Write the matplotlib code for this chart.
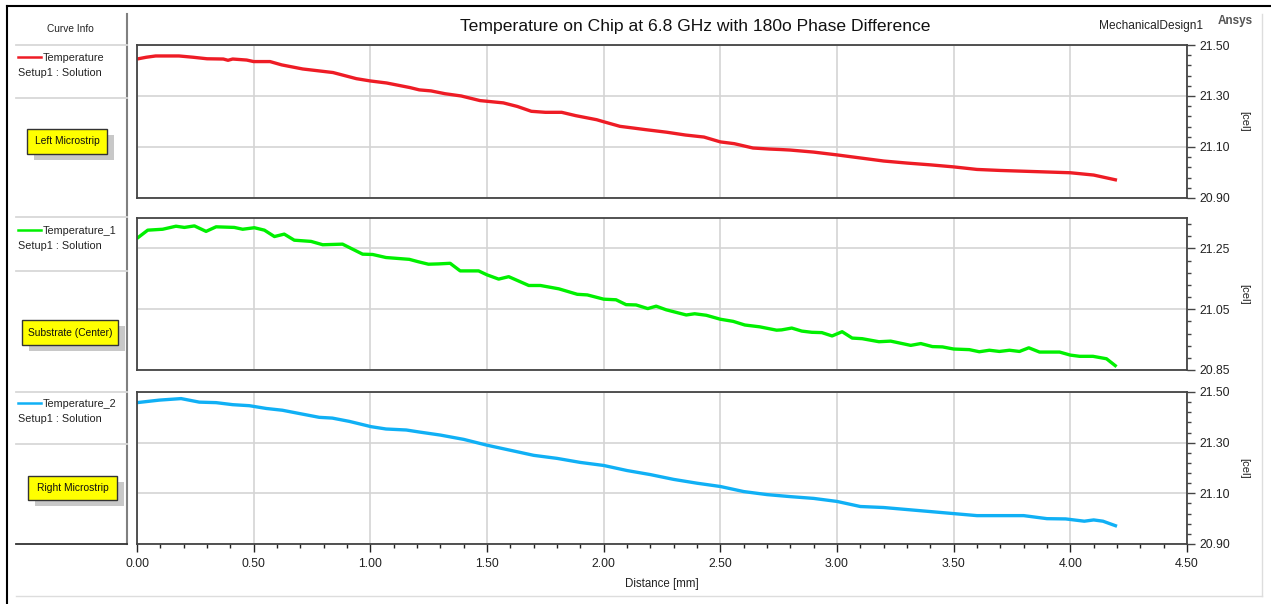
import numpy as np
import matplotlib
matplotlib.use('Agg')
import matplotlib.pyplot as plt
from matplotlib.lines import Line2D
from matplotlib.patches import Rectangle
from matplotlib.ticker import MultipleLocator

plt.rcParams['font.family'] = ['Liberation Sans', 'DejaVu Sans']

# data
title = 'Temperature on Chip at 6.8 GHz with 180o Phase Difference'
xlabel = 'Distance [mm]'
ylabel = '[cel]'
names = ['Temperature', 'Temperature_1', 'Temperature_2']
notes = ['Left Microstrip', 'Substrate (Center)', 'Right Microstrip']

red_d = [0, 0.04, 0.08, 0.18, 0.24, 0.30, 0.37, 0.39, 0.41, 0.47, 0.50, 0.57, 0.62, 0.71,
         0.84, 0.94, 1.00, 1.07, 1.17, 1.21, 1.26, 1.32, 1.39, 1.47, 1.57, 1.63, 1.69, 1.75,
         1.82, 1.88, 1.97, 2.00, 2.07, 2.13, 2.18, 2.27, 2.35, 2.43, 2.50, 2.56, 2.64, 2.71,
         2.76, 2.80, 2.90, 3.00, 3.10, 3.20, 3.30, 3.40, 3.50, 3.60, 3.70, 3.80, 3.90, 4.00,
         4.10, 4.20]
red_t = [21.445, 21.452, 21.457, 21.457, 21.452, 21.446, 21.445, 21.440, 21.445, 21.441,
         21.435, 21.435, 21.422, 21.406, 21.392, 21.368, 21.359, 21.351, 21.333, 21.324,
         21.320, 21.309, 21.300, 21.282, 21.273, 21.259, 21.240, 21.236, 21.236, 21.223,
         21.207, 21.199, 21.181, 21.174, 21.168, 21.158, 21.147, 21.139, 21.120, 21.113,
         21.096, 21.092, 21.090, 21.088, 21.080, 21.069, 21.057, 21.045, 21.037, 21.030,
         21.022, 21.012, 21.008, 21.005, 21.002, 20.999, 20.990, 20.970]

green_d = [0, 0.046, 0.11, 0.167, 0.203, 0.246, 0.296, 0.339, 0.417, 0.453, 0.503, 0.546,
           0.589, 0.631, 0.674, 0.746, 0.796, 0.881, 0.967, 1.01, 1.067, 1.167, 1.206, 1.249,
           1.292, 1.342, 1.385, 1.464, 1.5, 1.55, 1.593, 1.679, 1.729, 1.808, 1.887, 1.93,
           2.0, 2.053, 2.096, 2.139, 2.189, 2.225, 2.268, 2.354, 2.39, 2.44, 2.5, 2.555,
           2.605, 2.669, 2.741, 2.763, 2.806, 2.849, 2.892, 2.935, 2.979, 3.022, 3.065, 3.108,
           3.18, 3.23, 3.316, 3.359, 3.409, 3.452, 3.5, 3.567, 3.61, 3.653, 3.696, 3.739,
           3.782, 3.822, 3.868, 3.954, 4.0, 4.04, 4.097, 4.155, 4.198]
green_t = [21.283, 21.310, 21.313, 21.323, 21.319, 21.324, 21.306, 21.321, 21.319, 21.313,
           21.318, 21.310, 21.289, 21.297, 21.277, 21.273, 21.262, 21.264, 21.231, 21.230,
           21.220, 21.214, 21.206, 21.198, 21.199, 21.201, 21.176, 21.176, 21.163, 21.149,
           21.157, 21.128, 21.128, 21.117, 21.099, 21.097, 21.083, 21.081, 21.065, 21.064,
           21.052, 21.060, 21.048, 21.031, 21.035, 21.030, 21.017, 21.010, 20.998, 20.992,
           20.981, 20.982, 20.988, 20.978, 20.974, 20.973, 20.962, 20.976, 20.955, 20.953,
           20.943, 20.945, 20.931, 20.937, 20.927, 20.926, 20.919, 20.917, 20.910, 20.915,
           20.911, 20.915, 20.911, 20.923, 20.909, 20.909, 20.899, 20.895, 20.895, 20.887,
           20.861]

blue_d = [0, 0.096, 0.189, 0.267, 0.339, 0.41, 0.481, 0.554, 0.623, 0.696, 0.781, 0.837,
          0.91, 1.004, 1.067, 1.154, 1.21, 1.3, 1.4, 1.5, 1.6, 1.7, 1.8, 1.9, 2.0, 2.1, 2.2,
          2.3, 2.4, 2.5, 2.6, 2.7, 2.8, 2.9, 3.0, 3.1, 3.2, 3.3, 3.4, 3.5, 3.6, 3.7, 3.8,
          3.9, 3.98, 4.06, 4.10, 4.14, 4.2]
blue_t = [21.458, 21.468, 21.474, 21.460, 21.458, 21.450, 21.446, 21.435, 21.428, 21.415,
          21.400, 21.397, 21.384, 21.363, 21.354, 21.350, 21.342, 21.330, 21.313, 21.290,
          21.270, 21.250, 21.238, 21.222, 21.210, 21.190, 21.174, 21.155, 21.140, 21.127,
          21.107, 21.095, 21.087, 21.080, 21.068, 21.048, 21.044, 21.036, 21.028, 21.020,
          21.012, 21.012, 21.012, 21.000, 20.999, 20.990, 20.995, 20.990, 20.970]

series = [(red_d, red_t), (green_d, green_t), (blue_d, blue_t)]
colors = ['#EE1C25', '#00F000', '#10B0F5']
ylims = [(20.90, 21.50), (20.85, 21.35), (20.90, 21.50)]
yticks = [[20.90, 21.10, 21.30, 21.50], [20.85, 21.05, 21.25], [20.90, 21.10, 21.30, 21.50]]

W, H = 1271, 604


def fx(x):
    return x / W


def fy(y):
    return 1 - y / H


fig = plt.figure(figsize=(W / 100, H / 100), dpi=100)

# panel pixel boxes (top, bottom)
boxes = [(45, 198), (218, 370), (392, 544)]
xl, xr = 137, 1187

for i, ((d, t), (top, bot)) in enumerate(zip(series, boxes)):
    ax = fig.add_axes([fx(xl), fy(bot), (xr - xl) / W, (bot - top) / H])
    ax.plot(d, t, color=colors[i], lw=2.4, solid_capstyle='butt')
    lo, hi = ylims[i]
    ax.set_xlim(0, 4.5)
    ax.set_ylim(lo, hi)
    ax.xaxis.set_major_locator(MultipleLocator(0.5))
    ax.set_yticks(yticks[i])
    nminor = int(round((hi - lo) / 0.04)) + 1
    ax.set_yticks(np.linspace(lo, lo + 0.04 * (nminor - 1), nminor), minor=True)
    ax.yaxis.tick_right()
    ax.yaxis.set_label_position('right')
    ax.set_yticklabels(['%.2f' % v for v in yticks[i]], fontsize=8.8, color='#222222')
    ax.set_ylabel(ylabel, rotation=-90, fontsize=8, color='#222222', labelpad=14)
    ax.grid(True, color='#D4D4D4', lw=1.2)
    ax.set_axisbelow(True)
    for s in ax.spines.values():
        s.set_color('#444444')
        s.set_linewidth(1.3)
    ax.tick_params(axis='y', which='major', length=6, width=1, color='#444444', pad=3)
    ax.tick_params(axis='y', which='minor', length=3, width=1, color='#444444')
    if i < 2:
        ax.tick_params(axis='x', which='both', bottom=False, labelbottom=False)
    else:
        ax.xaxis.set_minor_locator(MultipleLocator(0.1))
        ax.set_xticklabels(['%.2f' % v for v in ax.get_xticks()], fontsize=8.8, color='#222222')
        ax.tick_params(axis='x', which='major', length=6, width=1, color='#222222', pad=4)
        ax.tick_params(axis='x', which='minor', length=3, width=1, color='#222222')
        ax.set_xlabel(xlabel, fontsize=8.3, color='#222222', labelpad=6)

# title and labels
fig.text(fx(695), fy(26), title, fontsize=12.6, ha='center', va='center', color='#111111')
fig.text(fx(1203), fy(26), 'MechanicalDesign1', fontsize=8.6, ha='right', va='center',
         color='#222222')
fig.text(fx(1235), fy(21), 'Ansys', fontsize=8.5, ha='center', va='center',
         color='#555555', fontweight='bold')

# outer frame
fig.add_artist(Line2D([fx(7), fx(7)], [fy(6), 0], color='black', lw=1.5))
fig.add_artist(Line2D([fx(7), 1], [fy(6), fy(6)], color='black', lw=1.5))
fig.add_artist(Line2D([fx(1262), fx(1262)], [fy(14), fy(596)], color='#DDDDDD', lw=1))
fig.add_artist(Line2D([fx(16), fx(1262)], [fy(596), fy(596)], color='#DDDDDD', lw=1))

# curve info panel
fig.add_artist(Line2D([fx(127), fx(127)], [fy(14), fy(544)], color='#808080', lw=1.5))
for y in [45, 98, 217, 271, 392, 444]:
    fig.add_artist(Line2D([fx(16), fx(127)], [fy(y), fy(y)], color='#D8D8D8', lw=1.3))
fig.add_artist(Line2D([fx(16), fx(127)], [fy(544), fy(544)], color='#333333', lw=1.3))
fig.text(fx(70), fy(29), 'Curve Info', fontsize=7.3, ha='center', va='center', color='#222222')

leg_y = [57, 230, 403]
note_boxes = [(27, 129, 107, 154), (22, 320, 118, 345), (28, 476, 117, 500)]
for i in range(3):
    y = leg_y[i]
    fig.add_artist(Line2D([fx(18), fx(41)], [fy(y), fy(y)], color=colors[i], lw=1.8))
    fig.text(fx(43), fy(y + 1), names[i], fontsize=7.8, ha='left', va='center', color='#222222')
    fig.text(fx(18), fy(y + 16), 'Setup1 : Solution', fontsize=7.8, ha='left', va='center',
             color='#222222')
    x0, y0, x1, y1 = note_boxes[i]
    fig.add_artist(Rectangle((fx(x0 + 7), fy(y1 + 6)), (x1 - x0) / W, (y1 - y0) / H,
                             facecolor='#C8C8C8', edgecolor='none'))
    fig.add_artist(Rectangle((fx(x0), fy(y1)), (x1 - x0) / W, (y1 - y0) / H,
                             facecolor='#FFFF00', edgecolor='#333333', lw=1))
    fig.text(fx((x0 + x1) / 2), fy((y0 + y1) / 2), notes[i], fontsize=7.4, ha='center',
             va='center', color='#111111')

fig.savefig('out.png', dpi=100, facecolor='white')
